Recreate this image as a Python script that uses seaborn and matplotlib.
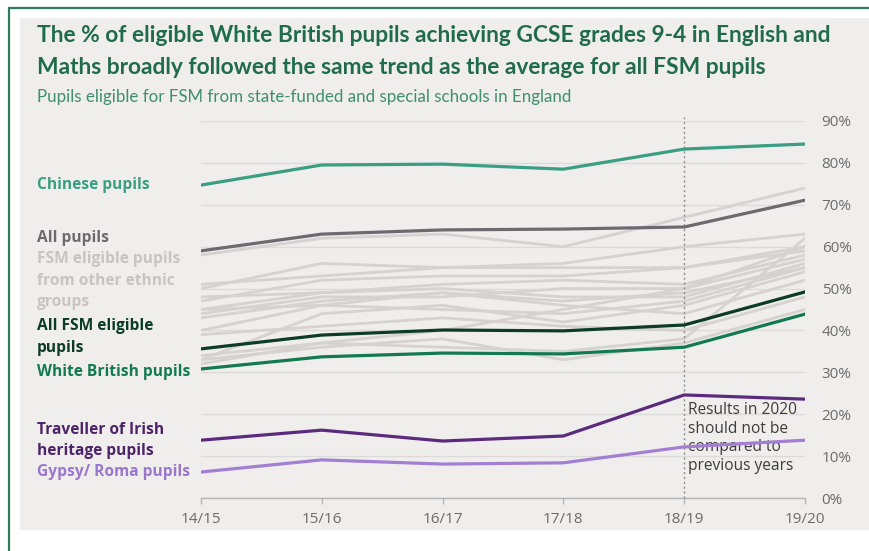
import pandas as pd
import numpy as np
import matplotlib.pyplot as plt
import seaborn as sns
from matplotlib.patches import Rectangle
from matplotlib.lines import Line2D

# DATOS
years = ['14/15', '15/16', '16/17', '17/18', '18/19', '19/20']

chinese = [74.7, 79.5, 79.7, 78.5, 83.3, 84.5]
all_pupils = [59.0, 63.0, 64.0, 64.2, 64.7, 71.1]
all_fsm = [35.6, 38.9, 40.1, 39.9, 41.3, 49.2]
white_british = [30.8, 33.7, 34.6, 34.4, 36.0, 43.9]
traveller_irish = [13.8, 16.2, 13.6, 14.8, 24.6, 23.6]
gypsy_roma = [6.2, 9.1, 8.1, 8.4, 12.2, 13.8]

# otros grupos etnicos (lineas grises)
other_groups = [
    [58, 62, 63, 60, 67, 74],
    [50, 56, 55, 56, 60, 63],
    [47, 52, 53, 53, 55, 60],
    [51, 53, 55, 55, 55, 59],
    [45, 49, 51, 52, 51, 58],
    [44, 48, 48, 50, 50, 57],
    [48, 49, 50, 48, 48, 56],
    [43, 47, 49, 47, 49, 55],
    [40, 46, 45, 44, 47, 55],
    [33, 44, 46, 42, 46, 54],
    [34, 37, 40, 45, 50, 60],
    [33, 36, 38, 33, 37, 45],
    [32, 37, 36, 35, 38, 62],
    [45, 46, 49, 46, 44, 52],
    [39, 41, 43, 41, 40, 48],
]

main_series = {
    'Chinese pupils': (chinese, '#3a9e82'),
    'All pupils': (all_pupils, '#6c6a6f'),
    'All FSM eligible pupils': (all_fsm, '#0c3b27'),
    'White British pupils': (white_british, '#137a50'),
    'Traveller of Irish heritage pupils': (traveller_irish, '#5b2a7c'),
    'Gypsy/ Roma pupils': (gypsy_roma, '#a27fd2'),
}

# tabla larga
rows = []
for i, vals in enumerate(other_groups):
    for j, v in enumerate(vals):
        rows.append({'series': f'other_{i}', 'x': j, 'value': v})
for name, (vals, _) in main_series.items():
    for j, v in enumerate(vals):
        rows.append({'series': name, 'x': j, 'value': v})
df = pd.DataFrame(rows)

# FIGURA
sns.set_style('white')
plt.rcParams['font.family'] = ['Open Sans', 'DejaVu Sans']

fig = plt.figure(figsize=(8.69, 5.51), dpi=100)
fig.patch.set_facecolor('white')

# panel gris y marco verde
fig.add_artist(Rectangle((20 / 869, 1 - 530 / 551), 1.2, 512 / 551,
                         transform=fig.transFigure, facecolor='#efeeed',
                         edgecolor='none', linewidth=0, zorder=-5))
fig.add_artist(Line2D([9 / 869, 9 / 869], [0, 1 - 8 / 551], transform=fig.transFigure,
                      color='#2f7d5a', lw=1.6))
fig.add_artist(Line2D([9 / 869, 1], [1 - 8 / 551, 1 - 8 / 551], transform=fig.transFigure,
                      color='#2f7d5a', lw=1.6))

ax = fig.add_axes([201 / 869, 1 - 498 / 551, 604 / 869, 377 / 551])
ax.set_facecolor('none')

other_df = df[df['series'].str.startswith('other_')]
sns.lineplot(data=other_df, x='x', y='value', units='series', estimator=None,
             color='#d6d2d0', linewidth=2.0, ax=ax, legend=False, zorder=2)

for name, (vals, col) in main_series.items():
    sub = df[df['series'] == name]
    sns.lineplot(data=sub, x='x', y='value', color=col, linewidth=2.3,
                 ax=ax, legend=False, zorder=4)

# ejes
ax.set_xlim(0, 5)
ax.set_ylim(0, 90)
ax.set_xticks(range(len(years)))
ax.set_xticklabels(years)
ax.set_yticks(np.arange(0, 91, 10))
ax.set_yticklabels([f'{v}%' for v in range(0, 91, 10)])
ax.yaxis.tick_right()
ax.tick_params(axis='y', length=0, pad=12, labelsize=11, labelcolor='#6b6b6b')
ax.tick_params(axis='x', length=4, width=1, color='#b5b5b5', pad=6,
               labelsize=11, labelcolor='#6b6b6b', bottom=True)
ax.set_xlabel('')
ax.set_ylabel('')
ax.grid(axis='y', color='#dddbd9', linewidth=1, zorder=0)
ax.grid(axis='x', visible=False)
for s in ['top', 'right', 'left']:
    ax.spines[s].set_visible(False)
ax.spines['bottom'].set_color('#b5b5b5')
ax.spines['bottom'].set_linewidth(1)

# linea punteada 18/19
ax.plot([4, 4], [0, 91], color='#8a8a8a', linestyle=(0, (1.5, 2)), linewidth=1,
        clip_on=False, zorder=3)
ax.annotate('Results in 2020\nshould not be\ncompared to\nprevious years',
            xy=(4, 22.8), xytext=(3, 0), textcoords='offset points',
            ha='left', va='top', fontsize=11.2, color='#3c3c3c', linespacing=1.2)

# etiquetas a la izquierda
labels = [
    ('Chinese pupils', 185, '#3a9e82'),
    ('All pupils', 238, '#6c6a6f'),
    ('FSM eligible pupils', 259, '#c9c4c2'),
    ('from other ethnic', 281, '#c9c4c2'),
    ('groups', 302, '#c9c4c2'),
    ('All FSM eligible', 326, '#0c3b27'),
    ('pupils', 348, '#0c3b27'),
    ('White British pupils', 372, '#137a50'),
    ('Traveller of Irish', 430, '#4e2468'),
    ('heritage pupils', 451, '#4e2468'),
    ('Gypsy/ Roma pupils', 472, '#9a76cc'),
]
for txt, ypx, col in labels:
    fig.text(37 / 869, 1 - ypx / 551, txt, ha='left', va='center',
             fontsize=11.2, fontweight='bold', color=col)

# titulo
fig.text(37 / 869, 1 - 36 / 551,
         'The % of eligible White British pupils achieving GCSE grades 9-4 in English and',
         ha='left', va='center', fontsize=16.4, fontweight='bold', color='#1f6b4a',
         family=['Lato', 'DejaVu Sans'])
fig.text(37 / 869, 1 - 67 / 551,
         'Maths broadly followed the same trend as the average for all FSM pupils',
         ha='left', va='center', fontsize=16.4, fontweight='bold', color='#1f6b4a',
         family=['Lato', 'DejaVu Sans'])
fig.text(37 / 869, 1 - 97 / 551,
         'Pupils eligible for FSM from state-funded and special schools in England',
         ha='left', va='center', fontsize=12.2, color='#3f8f6c',
         family=['Lato', 'DejaVu Sans'])

plt.savefig('out.png', dpi=100)
plt.close()
